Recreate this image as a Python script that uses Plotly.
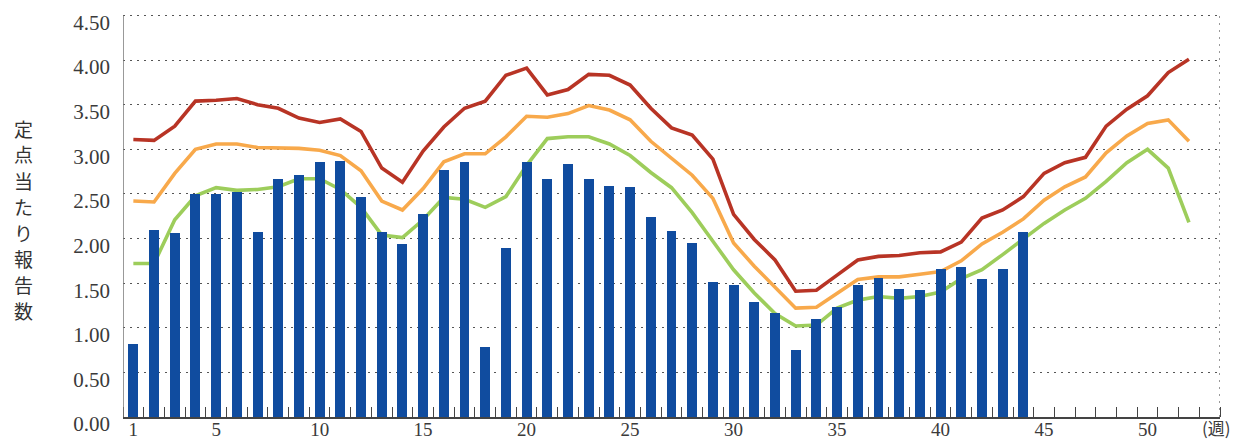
import plotly.graph_objects as go

weeks = list(range(1, 53))
bar_values = [0.82, 2.10, 2.06, 2.50, 2.50, 2.52, 2.07, 2.67, 2.71, 2.86,
              2.87, 2.47, 2.07, 1.94, 2.27, 2.77, 2.86, 0.78, 1.89, 2.86,
              2.67, 2.84, 2.67, 2.59, 2.58, 2.24, 2.09, 1.95, 1.51, 1.48,
              1.29, 1.17, 0.75, 1.10, 1.23, 1.48, 1.56, 1.43, 1.42, 1.66,
              1.68, 1.55, 1.66, 2.07] + [None] * 8
red_values = [3.11, 3.10, 3.26, 3.54, 3.55, 3.57, 3.50, 3.46, 3.35, 3.30,
              3.34, 3.20, 2.79, 2.63, 2.98, 3.25, 3.46, 3.54, 3.83, 3.91,
              3.61, 3.67, 3.84, 3.83, 3.72, 3.46, 3.24, 3.16, 2.89, 2.27,
              1.99, 1.76, 1.41, 1.42, 1.59, 1.76, 1.80, 1.81, 1.84, 1.85,
              1.96, 2.23, 2.32, 2.47, 2.73, 2.85, 2.91, 3.26, 3.45, 3.60,
              3.86, 4.01]
orange_values = [2.42, 2.41, 2.73, 3.00, 3.06, 3.06, 3.02, 3.02, 3.01, 2.99,
                 2.93, 2.76, 2.42, 2.32, 2.56, 2.86, 2.95, 2.95, 3.14, 3.37,
                 3.36, 3.40, 3.49, 3.44, 3.33, 3.09, 2.90, 2.71, 2.45, 1.95,
                 1.69, 1.46, 1.22, 1.23, 1.39, 1.54, 1.57, 1.57, 1.60, 1.63,
                 1.75, 1.94, 2.07, 2.22, 2.43, 2.58, 2.69, 2.96, 3.15, 3.29,
                 3.33, 3.09]
green_values = [1.72, 1.72, 2.21, 2.48, 2.57, 2.54, 2.55, 2.58, 2.67, 2.67,
                2.55, 2.35, 2.04, 2.01, 2.21, 2.46, 2.44, 2.35, 2.47, 2.82,
                3.12, 3.14, 3.14, 3.06, 2.93, 2.74, 2.57, 2.29, 1.97, 1.65,
                1.39, 1.16, 1.02, 1.03, 1.22, 1.31, 1.35, 1.33, 1.35, 1.40,
                1.55, 1.65, 1.82, 2.00, 2.17, 2.32, 2.45, 2.64, 2.85, 3.00,
                2.79, 2.18]
x_tick_values = [1, 5, 10, 15, 20, 25, 30, 35, 40, 45, 50]
x_tick_labels = ["1", "5", "10", "15", "20", "25", "30", "35", "40", "45", "50"]
y_tick_values = [0, 0.5, 1, 1.5, 2, 2.5, 3, 3.5, 4, 4.5]
y_tick_labels = ["0.00", "0.50", "1.00", "1.50", "2.00", "2.50", "3.00", "3.50", "4.00", "4.50"]
y_title = "定点当たり報告数"
x_unit = "(週)"

OFF = 8  # default page body margin
W, H = 1231, 433
L, R, T, B = 115, 19, 3, 24
pw, ph = W - L - R, H - T - B
X0, X1 = 0.5, 53.5
Y0, Y1 = 0, 4.55

fig = go.Figure()
for vals, col in [(green_values, "#9DCD5B"), (orange_values, "#F8A94B"), (red_values, "#B83425")]:
    fig.add_trace(go.Scatter(x=weeks, y=vals, mode="lines",
                             line=dict(color=col, width=3.6), yaxis="y", showlegend=False))
fig.add_trace(go.Bar(x=weeks, y=bar_values, width=0.48, marker=dict(color="#104C9F", line=dict(width=0)),
                     yaxis="y2", showlegend=False))

tickfont = dict(family="Liberation Serif", size=21, color="#3a3a3a")
xtickfont = dict(family="Liberation Serif", size=19, color="#3a3a3a")
fig.update_layout(
    width=W, height=H, margin=dict(l=L, r=R, t=T, b=B, autoexpand=False),
    paper_bgcolor="white", plot_bgcolor="white",
    showlegend=False,
    xaxis=dict(range=[X0, X1], tickmode="array", tickvals=x_tick_values, ticktext=x_tick_labels,
               ticks="", showgrid=False, zeroline=False, showline=True, linecolor="#444", linewidth=1.5,
               tickfont=xtickfont, ticklabelstandoff=-6, automargin=False,
               minor=dict(tickmode="linear", tick0=0.5, dtick=1, ticks="inside", ticklen=10,
                          tickcolor="#444", tickwidth=1.2, showgrid=False)),
    yaxis=dict(range=[Y0, Y1], tickmode="array", tickvals=y_tick_values, ticktext=y_tick_labels,
               showgrid=True, gridcolor="#555", gridwidth=1, griddash="2px,5px",
               zeroline=False, showline=False, automargin=False,
               ticks="", tickfont=tickfont, ticklabelstandoff=12, ticklabelshift=7),
    yaxis2=dict(range=[Y0, Y1], overlaying="y", side="left", showgrid=False, showticklabels=False,
                zeroline=False, showline=False, ticks="", automargin=False),
    bargap=0,
)
# left axis line (solid) and right border (dotted), both ending at the top gridline
fig.add_shape(type="line", xref="x", yref="y", x0=X0, x1=X0, y0=0, y1=4.5,
              line=dict(color="#777", width=1.5))
fig.add_shape(type="line", xref="x", yref="y", x0=X1, x1=X1, y0=0, y1=4.5,
              line=dict(color="#555", width=1.2, dash="2px,5px"))

def px_x(p):
    return (p - OFF - L) / pw

def px_y(p):
    return (H - B - (p - OFF)) / ph

pitch = 26
first = 219 - pitch * (len(y_title) - 1) / 2
for i, ch in enumerate(y_title):
    fig.add_annotation(text=ch, xref="paper", yref="paper", x=px_x(23.5), y=px_y(first + pitch * i),
                       showarrow=False, xanchor="center", yanchor="middle",
                       font=dict(family="Noto Sans CJK JP", size=19, color="#333"))
fig.add_annotation(text=x_unit, xref="paper", yref="paper", x=px_x(1216), y=px_y(428),
                   showarrow=False, xanchor="center", yanchor="middle",
                   font=dict(family="Noto Sans CJK JP", size=17, color="#3a3a3a"))

fig.write_html("out.html")
